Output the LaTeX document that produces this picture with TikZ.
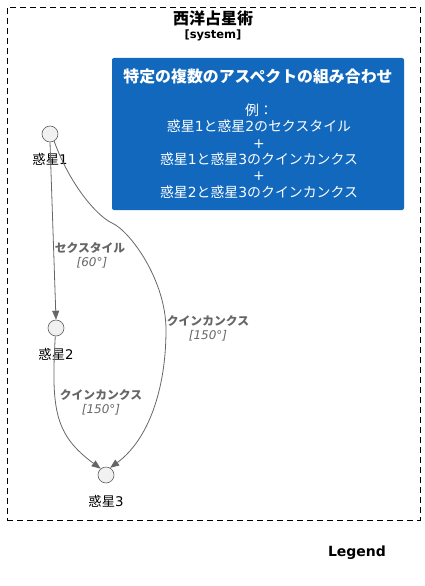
\documentclass[tikz,border=0pt]{standalone}
\usepackage{fontspec}
\setmainfont{DejaVu Sans}
\newfontfamily\jp{Noto Sans CJK JP}
\usetikzlibrary{arrows.meta}
\definecolor{c4blue}{HTML}{1168BD}
\definecolor{edgegray}{HTML}{666666}
\definecolor{circfill}{HTML}{F1F1F1}
\definecolor{circline}{HTML}{5F5F5F}
\newcommand\dg[1]{{\rmfamily #1}}
\tikzset{
  planet/.style={circle, draw=circline, fill=circfill, line width=0.6pt, minimum size=16pt, inner sep=0pt},
  plabel/.style={font=\jp\fontsize{13.3}{15}\selectfont, text=black, inner sep=0pt},
  rel/.style={draw=edgegray, line width=0.8pt, -{Triangle[length=9pt,width=7pt]}},
  relname/.style={font=\jp\bfseries\fontsize{11.8}{13}\selectfont, text=edgegray, inner sep=0pt},
  reltech/.style={font=\itshape\fontsize{12}{13}\selectfont, text=edgegray, inner sep=0pt},
}
\begin{document}
\begin{tikzpicture}[x=1pt,y=-1pt]
\useasboundingbox (0,0) rectangle (425,586);
% boundary
\node[draw=black, dash pattern=on 6pt off 4pt, line width=0.8pt, minimum width=413pt, minimum height=513pt, inner sep=0pt] (sys) at (213.5,263.5) {};
\node[font=\jp\bfseries\fontsize{16}{18}\selectfont, inner sep=0pt] (systitle) at (213,18) {西洋占星術};
\node[font=\bfseries\fontsize{11.5}{13}\selectfont, inner sep=0pt] (systag) at (213,35) {[system]};
% note box
\node[fill=c4blue, rounded corners=2pt, minimum width=292pt, minimum height=152pt, inner sep=0pt] (note) at (258,134) {};
\node[font=\jp\bfseries\fontsize{15.9}{18}\selectfont, text=white, inner sep=0pt] (notetitle) at (258,77) {特定の複数のアスペクトの組み合わせ};
\node[font=\jp\fontsize{13.9}{16.4}\selectfont, text=white, align=center, inner sep=0pt] (notebody) at (259,151) {例：\\惑星\dg{1}と惑星\dg{2}のセクスタイル\\\dg{+}\\惑星\dg{1}と惑星\dg{3}のクインカンクス\\\dg{+}\\惑星\dg{2}と惑星\dg{3}のクインカンクス};
% planets
\node[planet] (p1) at (50,134) {};
\node[plabel] (l1) at (50,159) {惑星\dg{1}};
\node[planet] (p2) at (56,328) {};
\node[plabel] (l2) at (56,354) {惑星\dg{2}};
\node[planet] (p3) at (106,475) {};
\node[plabel] (l3) at (106,501) {惑星\dg{3}};
% relations
\draw[rel] (p1.south) -- (p2.north);
\node[relname] (r1a) at (90,248) {セクスタイル};
\node[reltech] (r1b) at (92,263) {[60°]};
\draw[rel] (p1.-60) .. controls (70,185) and (97,216) .. (112,223) .. controls (130,231) and (166,280) .. (166,330) .. controls (166,390) and (148,440) .. (p3.60);
\node[relname] (r2a) at (208,321) {クインカンクス};
\node[reltech] (r2b) at (208,336) {[150°]};
\draw[rel] (p2.-95) .. controls (51,410) and (55,435) .. (p3.130);
\node[relname] (r3a) at (101,395) {クインカンクス};
\node[reltech] (r3b) at (101,410) {[150°]};
% legend
\node[font=\bfseries\fontsize{14}{16}\selectfont, inner sep=0pt] (legend) at (357,553) {Legend};
\end{tikzpicture}
\end{document}
